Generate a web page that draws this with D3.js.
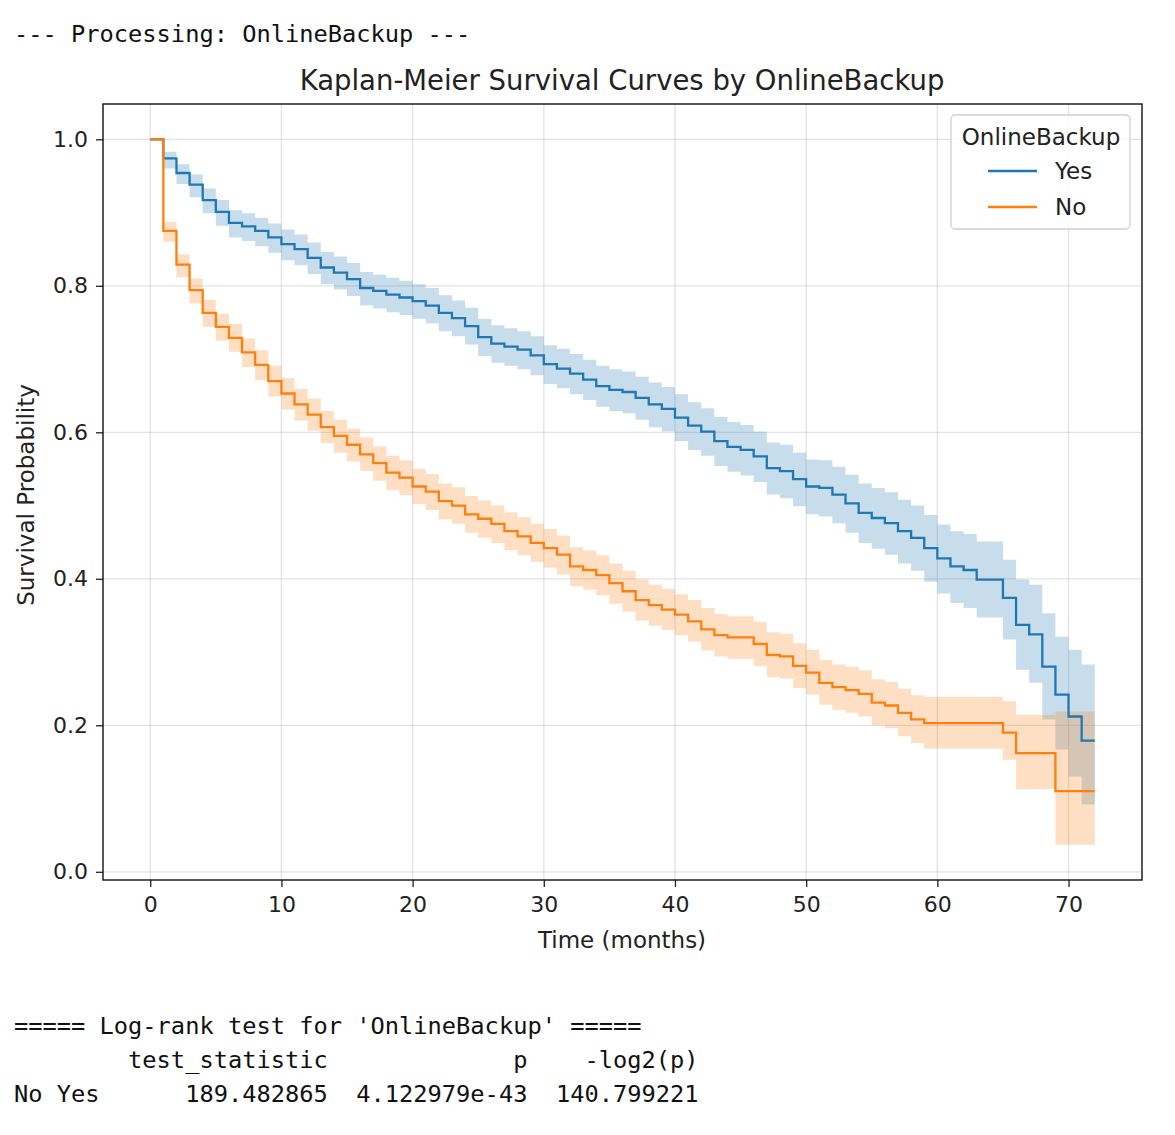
<!DOCTYPE html>
<html>
<head>
<meta charset="utf-8">
<script src="https://cdn.jsdelivr.net/npm/d3@7"></script>
<style>
  body { margin: 0; background: #fff; }
  text { font-family: "DejaVu Sans", sans-serif; fill: #222; }
  .mono { font-family: "DejaVu Sans Mono", "Liberation Mono", monospace; white-space: pre; fill: #111; }
</style>
</head>
<body>
<svg id="chart" width="1175" height="1135"></svg>
<script>
// event times (months), value holds until next time
var months = [0,1,2,3,4,5,6,7,8,9,10,11,12,13,14,15,16,17,18,19,20,21,22,23,24,25,26,27,28,29,30,
  31,32,33,34,35,36,37,38,39,40,41,42,43,44,45,46,47,48,49,50,51,52,53,54,55,56,57,58,59,60,
  61,62,63,64,65,66,67,68,69,70,71,72];

var yesSurv = [1.0,0.974,0.954,0.938,0.917,0.901,0.886,0.881,0.875,0.866,0.857,0.850,0.838,0.825,0.818,
  0.809,0.797,0.793,0.788,0.784,0.779,0.773,0.763,0.756,0.745,0.730,0.721,0.717,0.713,0.705,
  0.693,0.687,0.680,0.672,0.663,0.658,0.655,0.647,0.638,0.632,0.620,0.609,0.601,0.588,0.580,
  0.576,0.567,0.551,0.547,0.536,0.526,0.524,0.515,0.503,0.490,0.483,0.476,0.465,0.456,0.442,
  0.428,0.417,0.412,0.399,0.399,0.374,0.337,0.324,0.280,0.242,0.212,0.179,0.179];
var yesLower = [1.0,0.960,0.939,0.921,0.899,0.882,0.866,0.861,0.854,0.845,0.835,0.828,0.816,0.802,0.795,
  0.786,0.773,0.769,0.764,0.760,0.755,0.749,0.738,0.731,0.720,0.704,0.695,0.691,0.686,0.678,
  0.666,0.660,0.652,0.644,0.635,0.629,0.626,0.617,0.607,0.601,0.588,0.576,0.568,0.554,0.546,
  0.541,0.532,0.515,0.510,0.499,0.488,0.485,0.476,0.463,0.449,0.441,0.433,0.421,0.411,0.396,
  0.380,0.367,0.360,0.347,0.347,0.317,0.276,0.258,0.208,0.167,0.130,0.092,0.092];
var yesUpper = [1.0,0.983,0.966,0.952,0.933,0.917,0.903,0.899,0.893,0.885,0.877,0.870,0.859,0.846,0.840,
  0.831,0.819,0.815,0.811,0.807,0.802,0.797,0.787,0.780,0.770,0.755,0.746,0.742,0.738,0.731,
  0.719,0.714,0.707,0.699,0.691,0.686,0.683,0.676,0.668,0.662,0.652,0.641,0.633,0.621,0.614,
  0.610,0.601,0.586,0.583,0.572,0.563,0.562,0.553,0.542,0.530,0.524,0.518,0.508,0.500,0.487,
  0.474,0.465,0.461,0.451,0.451,0.426,0.399,0.392,0.353,0.321,0.303,0.283,0.283];

var noSurv = [1.0,0.875,0.829,0.794,0.763,0.744,0.729,0.709,0.692,0.670,0.653,0.638,0.624,0.607,0.595,
  0.583,0.570,0.558,0.545,0.538,0.526,0.519,0.506,0.500,0.488,0.482,0.475,0.465,0.458,0.449,
  0.442,0.433,0.417,0.412,0.405,0.394,0.383,0.371,0.364,0.358,0.351,0.342,0.331,0.323,0.320,
  0.320,0.311,0.296,0.294,0.281,0.272,0.258,0.252,0.248,0.243,0.231,0.227,0.217,0.208,0.203,
  0.203,0.203,0.203,0.203,0.203,0.190,0.162,0.162,0.162,0.110,0.110,0.110,0.110];
var noLower = [1.0,0.860,0.812,0.776,0.744,0.725,0.710,0.689,0.671,0.649,0.631,0.616,0.602,0.585,0.572,
  0.560,0.547,0.534,0.521,0.514,0.502,0.494,0.481,0.475,0.463,0.456,0.449,0.439,0.432,0.423,
  0.415,0.406,0.390,0.385,0.378,0.366,0.355,0.343,0.336,0.330,0.323,0.314,0.302,0.294,0.291,
  0.291,0.281,0.266,0.264,0.251,0.242,0.228,0.221,0.217,0.212,0.200,0.196,0.185,0.176,0.168,
  0.168,0.168,0.168,0.168,0.168,0.153,0.113,0.113,0.113,0.037,0.037,0.037,0.037];
var noUpper = [1.0,0.887,0.843,0.810,0.781,0.762,0.748,0.728,0.712,0.691,0.674,0.659,0.646,0.629,0.617,
  0.605,0.593,0.581,0.568,0.562,0.550,0.543,0.530,0.525,0.513,0.507,0.500,0.491,0.484,0.475,
  0.468,0.459,0.443,0.439,0.432,0.421,0.411,0.399,0.392,0.386,0.379,0.371,0.360,0.352,0.349,
  0.349,0.341,0.327,0.325,0.312,0.303,0.289,0.283,0.280,0.275,0.263,0.259,0.250,0.241,0.239,
  0.239,0.239,0.239,0.239,0.239,0.233,0.214,0.214,0.214,0.219,0.219,0.219,0.219];

var groupNames = ["Yes", "No"];
var groupColors = ["#1f77b4", "#ff7f0e"];
var xTicks = [0, 10, 20, 30, 40, 50, 60, 70];
var yTicks = [0.0, 0.2, 0.4, 0.6, 0.8, 1.0];

var headerLine = "--- Processing: OnlineBackup ---";
var logrankLines = [
  "===== Log-rank test for 'OnlineBackup' =====",
  "        test_statistic             p    -log2(p)",
  "No Yes      189.482865  4.122979e-43  140.799221"
];

(function () {
  var svg = d3.select("#chart");
  svg.append("rect").attr("width", 1175).attr("height", 1135).attr("fill", "#fff");

  var pl = 103, pr = 1142, pt = 104, pb = 880;

  var x = d3.scaleLinear().domain([-3.6, 75.6]).range([pl, pr]);
  var y = d3.scaleLinear().domain([-0.0112, 1.0482]).range([pb, pt]);

  // grid
  var grid = svg.append("g");
  grid.selectAll(".gx").data(xTicks).enter().append("line")
    .attr("x1", function (d) { return x(d); }).attr("x2", function (d) { return x(d); })
    .attr("y1", pt).attr("y2", pb)
    .attr("stroke", "#b0b0b0").attr("stroke-opacity", 0.35).attr("stroke-width", 1.3);
  grid.selectAll(".gy").data(yTicks).enter().append("line")
    .attr("y1", function (d) { return y(d); }).attr("y2", function (d) { return y(d); })
    .attr("x1", pl).attr("x2", pr)
    .attr("stroke", "#b0b0b0").attr("stroke-opacity", 0.35).attr("stroke-width", 1.3);

  var groups = [
    { name: groupNames[0], color: groupColors[0], s: yesSurv, lo: yesLower, hi: yesUpper },
    { name: groupNames[1], color: groupColors[1], s: noSurv, lo: noLower, hi: noUpper }
  ];

  var area = d3.area().curve(d3.curveStepAfter)
    .x(function (d) { return x(d.t); })
    .y0(function (d) { return y(d.lo); })
    .y1(function (d) { return y(d.hi); });
  var line = d3.line().curve(d3.curveStepAfter)
    .x(function (d) { return x(d.t); })
    .y(function (d) { return y(d.s); });

  groups.forEach(function (g) {
    g.pts = months.map(function (t, i) { return { t: t, s: g.s[i], lo: g.lo[i], hi: g.hi[i] }; });
  });

  groups.forEach(function (g) {
    svg.append("path").datum(g.pts).attr("d", area)
      .attr("fill", g.color).attr("fill-opacity", 0.25).attr("stroke", "none");
  });
  groups.forEach(function (g) {
    svg.append("path").datum(g.pts).attr("d", line)
      .attr("fill", "none").attr("stroke", g.color).attr("stroke-width", 2.3);
  });

  // axes
  var xAxis = svg.append("g").attr("transform", "translate(0," + pb + ")")
    .call(d3.axisBottom(x).tickValues(xTicks).tickFormat(d3.format("d")).tickSize(7).tickPadding(9));
  var yAxis = svg.append("g").attr("transform", "translate(" + pl + ",0)")
    .call(d3.axisLeft(y).tickValues(yTicks).tickFormat(d3.format(".1f")).tickSize(7).tickPadding(8));
  [xAxis, yAxis].forEach(function (a) {
    a.select(".domain").remove();
    a.selectAll(".tick line").attr("stroke", "#222").attr("stroke-width", 1.3);
    a.selectAll(".tick text").attr("font-size", 22).attr("fill", "#222")
      .attr("font-family", "'DejaVu Sans', sans-serif");
  });

  svg.append("rect").attr("x", pl).attr("y", pt)
    .attr("width", pr - pl).attr("height", pb - pt)
    .attr("fill", "none").attr("stroke", "#111").attr("stroke-width", 1.4);

  // labels
  svg.append("text").attr("x", 622).attr("y", 90).attr("text-anchor", "middle")
    .attr("font-size", 27.5).text("Kaplan-Meier Survival Curves by OnlineBackup");
  svg.append("text").attr("x", 622).attr("y", 948).attr("text-anchor", "middle")
    .attr("font-size", 23).text("Time (months)");
  svg.append("text").attr("transform", "translate(34,495) rotate(-90)").attr("text-anchor", "middle")
    .attr("font-size", 23).text("Survival Probability");

  // legend
  var lg = svg.append("g");
  lg.append("rect").attr("x", 951).attr("y", 115).attr("width", 179).attr("height", 114)
    .attr("rx", 4).attr("fill", "#fff").attr("fill-opacity", 0.8)
    .attr("stroke", "#d0d0d0").attr("stroke-width", 1.3);
  lg.append("text").attr("x", 1041).attr("y", 145).attr("text-anchor", "middle")
    .attr("font-size", 23).text("OnlineBackup");
  groups.forEach(function (g, i) {
    var yy = 171 + i * 36;
    lg.append("line").attr("x1", 988).attr("x2", 1037).attr("y1", yy).attr("y2", yy)
      .attr("stroke", g.color).attr("stroke-width", 2.5);
    lg.append("text").attr("x", 1055).attr("y", yy + 8).attr("font-size", 23).text(g.name);
  });

  // console text
  svg.append("text").attr("class", "mono").attr("x", 14).attr("y", 42)
    .attr("font-size", 23.7).text(headerLine);
  svg.selectAll(".lr").data(logrankLines).enter().append("text")
    .attr("class", "mono").attr("x", 14)
    .attr("y", function (d, i) { return 1034 + i * 34; })
    .attr("font-size", 23.7).text(function (d) { return d; });
})();
</script>
</body>
</html>
